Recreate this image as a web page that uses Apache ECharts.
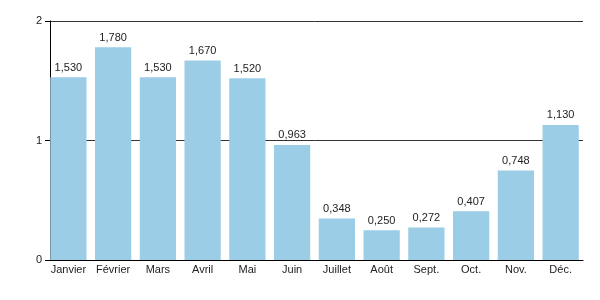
<!DOCTYPE html>
<html>
<head>
<meta charset="utf-8">
<script src="https://cdn.jsdelivr.net/npm/echarts@6/dist/echarts.min.js"></script>
<style>html,body{margin:0;padding:0;background:#fff}#c{width:600px;height:300px}</style>
</head>
<body>
<div id="c"></div>
<script>
const categories = ["Janvier","Février","Mars","Avril","Mai","Juin","Juillet","Août","Sept.","Oct.","Nov.","Déc."];
const values = [1.530, 1.780, 1.530, 1.670, 1.520, 0.963, 0.348, 0.250, 0.272, 0.407, 0.748, 1.130];
const yTicks = [0, 1, 2];

const fmt = v => v.toFixed(3).replace('.', ',');
const chart = echarts.init(document.getElementById('c'), null, {renderer: 'canvas'});
chart.setOption({
  animation: false,
  textStyle: {fontFamily: 'Liberation Sans, Arial, sans-serif'},
  grid: {left: 46, right: 17, top: 21, bottom: 40},
  xAxis: {
    type: 'category',
    data: categories,
    axisLine: {show: true, lineStyle: {color: '#000', width: 1}},
    axisTick: {show: false},
    axisLabel: {color: '#222', fontSize: 11, margin: 4, interval: 0}
  },
  yAxis: {
    type: 'value',
    min: yTicks[0], max: yTicks[yTicks.length - 1], interval: 1,
    offset: -4,
    axisLine: {show: true, lineStyle: {color: '#000', width: 1}},
    axisTick: {show: true, length: 5, lineStyle: {color: '#000'}},
    axisLabel: {color: '#222', fontSize: 11, margin: 8},
    splitLine: {show: true, lineStyle: {color: '#333', width: 1}}
  },
  series: [{
    type: 'bar',
    data: values,
    barCategoryGap: '19%',
    itemStyle: {color: '#9ccde6'},
    label: {show: true, position: 'top', distance: 4, color: '#222', fontSize: 11, formatter: p => fmt(p.value)},
    z: 1
  }]
});
</script>
</body>
</html>
